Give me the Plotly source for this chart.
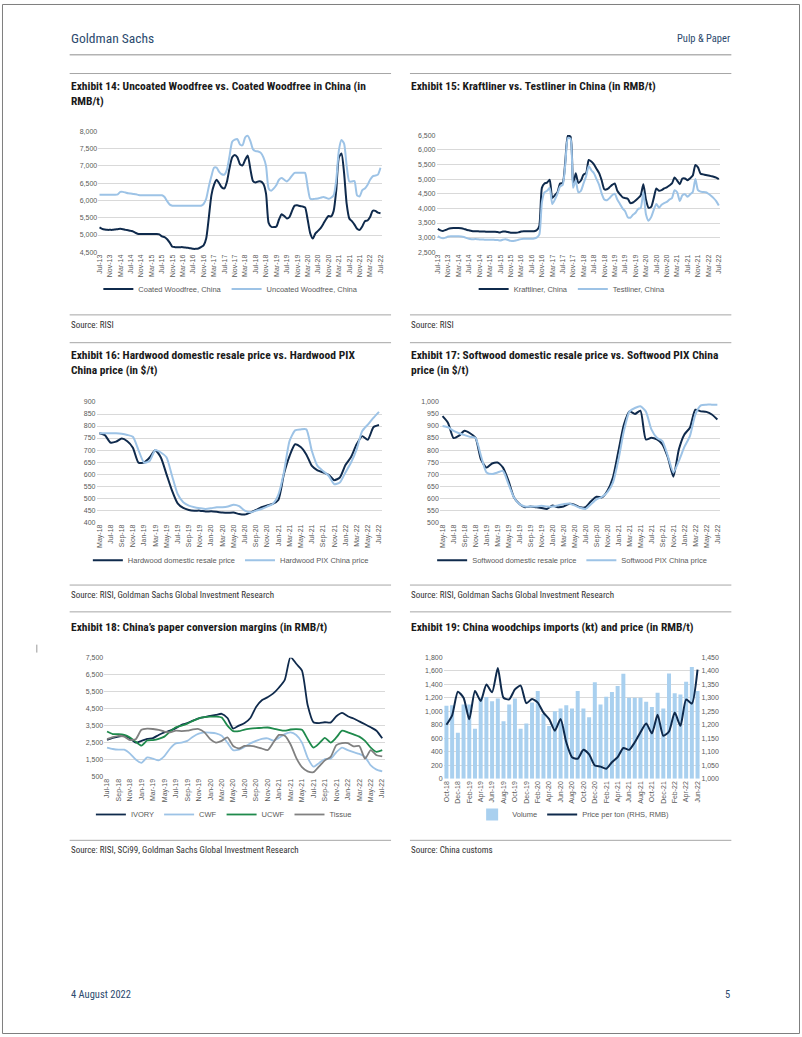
import plotly.graph_objects as go
import pandas as pd

W, H = 802, 1037
def fx(x): return x / W
def fy(y): return 1 - y / H

# ---------------- DATA ----------------
months_14 = pd.date_range("2013-07-01", "2022-07-01", freq="MS").strftime("%b-%y").tolist()
coated = [5220, 5180, 5160, 5150, 5150, 5150,
          5160, 5170, 5180, 5170, 5150, 5140, 5120, 5100, 5060, 5030, 5030, 5030,
          5030, 5030, 5030, 5030, 5030, 5020, 4960, 4940, 4880, 4780, 4660, 4650,
          4650, 4650, 4650, 4640, 4630, 4620, 4600, 4600, 4610, 4650, 4700, 4900,
          5500, 6150, 6450, 6600, 6500, 6380, 6350, 6550, 6950, 7250, 7320, 7250,
          7050, 7020, 7180, 7300, 6900, 6560, 6520, 6550, 6550, 6480, 6200, 5350,
          5240, 5230, 5250, 5450, 5600, 5550, 5480, 5520, 5700, 5850, 5860, 5840,
          5830, 5800, 5450, 5050, 4900, 5050, 5120, 5200, 5320, 5450, 5550, 5540,
          5700, 6300, 7250, 7360, 6800, 5900, 5480, 5400, 5300, 5180, 5150, 5250,
          5400, 5420, 5520, 5700, 5700, 5650, 5630]
uncoated = [6170, 6170, 6170, 6170, 6170, 6170,
            6170, 6180, 6250, 6250, 6230, 6210, 6200, 6190, 6180, 6160, 6150, 6150,
            6150, 6150, 6150, 6150, 6150, 6150, 6150, 6100, 5980, 5880, 5850, 5850,
            5850, 5850, 5850, 5850, 5850, 5850, 5850, 5850, 5850, 5850, 5900, 6050,
            6400, 6700, 6950, 6950, 6830, 6760, 6750, 6900, 7300, 7700, 7760, 7780,
            7620, 7600, 7830, 7870, 7720, 7480, 7430, 7420, 7380, 7250, 7000, 6350,
            6280, 6350, 6450, 6600, 6650, 6600, 6550, 6620, 6720, 6800, 6800, 6800,
            6800, 6800, 6400, 6050, 6040, 6050, 6060, 6080, 6100, 6080, 6050, 6080,
            6150, 6600, 7450, 7750, 7650, 7000, 6550, 6550, 6560, 6150, 6120, 6300,
            6350, 6450, 6600, 6700, 6720, 6750, 6950]
kraftliner = [3300, 3250, 3230, 3260, 3300, 3320,
              3330, 3330, 3330, 3320, 3300, 3270, 3250, 3230, 3220, 3220, 3210, 3210,
              3210, 3200, 3200, 3200, 3200, 3190, 3180, 3210, 3210, 3190, 3170, 3170,
              3170, 3180, 3210, 3220, 3220, 3220, 3220, 3220, 3250, 3400, 4700, 4850,
              4880, 4980, 4350, 4450, 4550, 4850, 4870, 5600, 6480, 6450, 4800, 5200,
              4870, 4950, 5150, 5200, 5650, 5600, 5500, 5350, 5200, 4950, 4650, 4650,
              4720, 4800, 4850, 4600, 4480, 4380, 4350, 4330, 4180, 4200, 4270, 4350,
              4450, 4820, 4300, 4020, 4050, 4350, 4680, 4600, 4620, 4680, 4720, 4780,
              4850, 5050, 4950, 4820, 5020, 5020, 4960, 5030, 5120, 5480, 5400, 5180,
              5160, 5140, 5120, 5100, 5080, 5050, 5000]
testliner = [3050, 3000, 2980, 3000, 3040, 3050,
             3050, 3050, 3050, 3040, 3020, 2990, 2960, 2950, 2950, 2950, 2940, 2940,
             2930, 2930, 2930, 2930, 2920, 2920, 2900, 2930, 2950, 2920, 2890, 2890,
             2900, 2930, 2950, 2960, 2960, 2960, 2960, 2970, 3000, 3100, 4200, 4550,
             4600, 4700, 4150, 4300, 4500, 4750, 4800, 5500, 6400, 6380, 4700, 4950,
             4550, 4600, 4850, 5100, 5450, 5300, 5200, 5000, 4800, 4500, 4300, 4280,
             4350, 4450, 4500, 4300, 4150, 4000, 3900, 3700, 3680, 3780, 3850, 3980,
             4020, 4550, 3800, 3580, 3700, 3950, 4150, 4020, 4120, 4180, 4220, 4300,
             4350, 4620, 4550, 4250, 4450, 4480, 4400, 4480, 4560, 5000, 4620, 4570,
             4560, 4550, 4500, 4430, 4350, 4250, 4100]

months_16 = pd.date_range("2018-05-01", "2022-07-01", freq="MS").strftime("%b-%y").tolist()
hw_domestic = [770, 762, 731, 735, 748, 737, 710, 648, 648, 669, 699, 669, 600, 531, 478, 459, 451,
               448, 448, 444, 445, 443, 440, 439, 440, 434, 432, 440, 451, 462, 470, 476, 492, 600,
               675, 724, 713, 682, 634, 616, 607, 597, 575, 586, 638, 671, 724, 758, 743, 795, 804]
hw_pix = [770, 770, 770, 770, 768, 763, 755, 700, 648, 655, 700, 690, 670, 593, 517, 483, 469,
          462, 458, 455, 458, 462, 462, 465, 473, 467, 448, 441, 448, 455, 465, 476, 514, 607,
          737, 782, 786, 786, 696, 634, 613, 593, 558, 565, 607, 648, 703, 779, 806, 834, 859]
sw_domestic = [941, 913, 850, 860, 880, 870, 851, 760, 727, 744, 748, 727, 672, 603, 576, 562, 565,
               562, 559, 555, 569, 562, 565, 576, 573, 562, 562, 587, 606, 603, 631, 686, 796, 906,
               961, 950, 964, 844, 851, 844, 824, 769, 689, 803, 865, 893, 968, 961, 959, 948, 927]
sw_pix = [900, 895, 880, 870, 862, 855, 850, 775, 707, 700, 707, 713, 658, 603, 575, 565, 565,
          565, 568, 565, 565, 570, 575, 578, 570, 560, 555, 575, 595, 605, 625, 665, 760, 880,
          960, 975, 982, 960, 886, 851, 837, 775, 707, 755, 813, 858, 948, 986, 989, 989, 989]

months_18 = pd.date_range("2018-07-01", "2022-07-01", freq="MS").strftime("%b-%y").tolist()
ivory = [2650, 2780, 2850, 2900, 2750, 2500, 2600, 2720, 2760, 2950,
         3100, 3200, 3350, 3550, 3650, 3800, 3930, 4000, 4070, 4130,
         4200, 3950, 3330, 3500, 3650, 3950, 4600, 5000, 5170, 5400,
         5750, 6200, 7550, 7150, 6750, 4700, 3700, 3650, 3700, 3680,
         4050, 4250, 4050, 3920, 3750, 3580, 3400, 3200, 2750]
cwf = [2200, 2120, 2080, 2080, 1850, 1500, 1300, 1620, 1550, 1450,
       1700, 2150, 2450, 2500, 2600, 2850, 3030, 3100, 3080, 3040,
       2900, 2500, 2050, 2080, 2250, 2450, 2600, 2720, 2750, 2620,
       2780, 3000, 3100, 2950, 2500, 1600, 1080, 1300, 1530, 1550,
       1930, 2200, 2050, 1930, 1830, 1650, 1150, 900, 800]
ucwf = [3150, 3000, 3000, 2950, 2800, 2550, 2320, 2620, 2650, 2720,
        2850, 3150, 3400, 3500, 3620, 3780, 3930, 4000, 4030, 4030,
        3980, 3500, 3180, 3170, 3270, 3320, 3350, 3370, 3390, 3330,
        3250, 3200, 3270, 3290, 3250, 2700, 2200, 2450, 2780, 2500,
        2800, 3200, 3100, 2980, 2850, 2600, 2200, 1950, 2050]
tissue = [2700, 2820, 2900, 2850, 2650, 2700, 3250, 3320, 3300, 3250,
          3150, 3100, 3200, 3180, 3200, 3280, 3300, 3100, 2700, 2500,
          2600, 2800, 2300, 2150, 2300, 2300, 2250, 2150, 2050, 2500,
          2950, 2900, 2400, 1600, 1050, 800, 750, 1100, 1450, 1650,
          2350, 2470, 2470, 2280, 2300, 1550, 2050, 1750, 1680]

months_19 = pd.date_range("2018-10-01", "2022-06-01", freq="MS").strftime("%b-%y").tolist()
volume = [1080, 1090, 680, 1100, 1100, 740, 1200, 1210, 1150, 1190,
          850, 1100, 1190, 740, 820, 1130, 1300, 960, 780, 1000,
          1040, 1090, 1040, 1300, 1040, 910, 1430, 1100, 1216, 1284,
          1373, 1554, 1200, 1200, 1200, 1142, 1064, 1275, 1040, 1559,
          1265, 1250, 1436, 1657, 1300]
price = [1200, 1235, 1322, 1300, 1220, 1325, 1288, 1349, 1320, 1410,
         1300, 1294, 1331, 1345, 1280, 1295, 1282, 1245, 1221, 1178,
         1221, 1135, 1080, 1074, 1107, 1090, 1049, 1045, 1037, 1061,
         1080, 1114, 1107, 1135, 1172, 1205, 1168, 1237, 1159, 1175,
         1245, 1196, 1294, 1278, 1404]

# ---------------- STYLE ----------------
NAVY = "#0f2a4c"
LIGHT = "#9dc3e6"
GREEN = "#1f8a4c"
GRAY = "#808080"
BARC = "#a9d0ef"
GRID = "#d9d9d9"
ARIAL = "Arial, 'Liberation Sans', sans-serif"
NARROW = "'Liberation Sans Narrow', 'Arial Narrow', 'Roboto Condensed', Roboto, sans-serif"
TICK = dict(family=ARIAL, size=7, color="#595959")
LEGF = dict(family=ARIAL, size=7.5, color="#595959")

fig = go.Figure()

def add_line(x, y, name, color, xa, ya, leg, width=2.0):
    fig.add_trace(go.Scatter(x=x, y=y, name=name, mode="lines",
                             line=dict(color=color, width=width, shape="spline", smoothing=0.6),
                             xaxis=xa, yaxis=ya, legend=leg, hoverinfo="skip"))

add_line(months_14, coated, "Coated Woodfree, China", NAVY, "x", "y", "legend")
add_line(months_14, uncoated, "Uncoated Woodfree, China", LIGHT, "x", "y", "legend")
add_line(months_14, kraftliner, "Kraftliner, China", NAVY, "x2", "y2", "legend2")
add_line(months_14, testliner, "Testliner, China", LIGHT, "x2", "y2", "legend2")
add_line(months_16, hw_domestic, "Hardwood domestic resale price", NAVY, "x3", "y3", "legend3")
add_line(months_16, hw_pix, "Hardwood PIX China price", LIGHT, "x3", "y3", "legend3")
add_line(months_16, sw_domestic, "Softwood domestic resale price", NAVY, "x4", "y4", "legend4")
add_line(months_16, sw_pix, "Softwood PIX China price", LIGHT, "x4", "y4", "legend4")
add_line(months_18, ivory, "IVORY", NAVY, "x5", "y5", "legend5", 1.8)
add_line(months_18, cwf, "CWF", LIGHT, "x5", "y5", "legend5", 1.8)
add_line(months_18, ucwf, "UCWF", GREEN, "x5", "y5", "legend5", 1.8)
add_line(months_18, tissue, "Tissue", GRAY, "x5", "y5", "legend5", 1.8)
fig.add_trace(go.Bar(x=months_19, y=volume, name="Volume", marker=dict(color=BARC, line=dict(width=0)),
                     xaxis="x6", yaxis="y6", legend="legend6", hoverinfo="skip"))
add_line(months_19, price, "Price per ton (RHS, RMB)", NAVY, "x6", "y7", "legend6")

def xcat(x0, x1, anchor, cats, step):
    return dict(domain=[fx(x0), fx(x1)], anchor=anchor, type="category",
                tickmode="array", tickvals=cats[::step], ticktext=cats[::step],
                tickangle=-90, tickfont=TICK, showgrid=False, showline=False, ticks="",
                zeroline=False, range=[-0.5, len(cats) - 0.5], fixedrange=True)

def ylin(top, bot, anchor, rng, dtick, tick0=None):
    d = dict(domain=[fy(bot), fy(top)], anchor=anchor, range=rng, dtick=dtick,
             tickformat=",", gridcolor=GRID, gridwidth=1, zeroline=False, showline=False,
             ticks="", tickfont=TICK, fixedrange=True)
    if tick0 is not None:
        d["tick0"] = tick0
    return d

layout = dict(
    width=W, height=H, margin=dict(l=0, r=0, t=0, b=0),
    paper_bgcolor="white", plot_bgcolor="white", bargap=0.3,
    xaxis=xcat(96.7, 381.7, "y", months_14, 4),
    yaxis=ylin(128.3, 250, "x", [4500, 8000], 500),
    xaxis2=xcat(436.7, 721.7, "y2", months_14, 4),
    yaxis2=ylin(132, 250, "x2", [2500, 6500], 500),
    xaxis3=xcat(95, 381.7, "y3", months_16, 2),
    yaxis3=ylin(400.7, 521.7, "x3", [400, 900], 50),
    xaxis4=xcat(440, 721.7, "y4", months_16, 2),
    yaxis4=ylin(400.7, 521.7, "x4", [500, 1000], 50),
    xaxis5=xcat(102.7, 385, "y5", months_18, 2),
    yaxis5=ylin(658.3, 777.7, "x5", [500, 7500], 1000, 500),
    xaxis6=xcat(443.8, 701.9, "y6", months_19, 2),
    yaxis6=ylin(657.7, 780, "x6", [0, 1800], 200),
)
y7 = ylin(657.7, 780, "x6", [1000, 1450], 50)
y7.update(overlaying="y6", side="right", showgrid=False)
layout["yaxis7"] = y7

def leg(cx, cy):
    return dict(x=fx(cx), y=fy(cy), xanchor="center", yanchor="middle", orientation="h",
                font=LEGF, bgcolor="rgba(0,0,0,0)", itemwidth=30, itemclick=False,
                itemdoubleclick=False)

layout["legend"] = leg(230, 287)
layout["legend2"] = leg(573, 287)
layout["legend3"] = leg(230, 560)
layout["legend4"] = leg(573, 560)
layout["legend5"] = leg(223, 816)
layout["legend6"] = leg(574, 816)
fig.update_layout(**layout)

# ---------------- PAGE FURNITURE ----------------
ann = []
def text(x, y, s, size, color="#1a1a1a", family=NARROW, xanchor="left", yanchor="middle", bold=False):
    if bold:
        s = "<b>" + s + "</b>"
    ann.append(dict(x=fx(x), y=fy(y), xref="paper", yref="paper", text=s, showarrow=False,
                    xanchor=xanchor, yanchor=yanchor, align="left",
                    font=dict(family=family, size=size, color=color)))

HEAD = "#2c4a6e"
text(67, 34, "Goldman Sachs", 13.5, HEAD)
text(734, 35, "Pulp &amp; Paper", 10.5, HEAD, xanchor="right")
text(67, 997, "4 August 2022", 10.5, HEAD)
text(734, 997, "5", 10.5, HEAD, xanchor="right")

text(67, 73, "Exhibit 14: Uncoated Woodfree vs. Coated Woodfree in China (in<br>RMB/t)", 11.5, yanchor="top", bold=True)
text(409, 73, "Exhibit 15: Kraftliner vs. Testliner in China (in RMB/t)", 11.5, yanchor="top", bold=True)
text(67, 344, "Exhibit 16: Hardwood domestic resale price vs. Hardwood PIX<br>China price (in $/t)", 11.5, yanchor="top", bold=True)
text(409, 344, "Exhibit 17: Softwood domestic resale price vs. Softwood PIX China<br>price (in $/t)", 11.5, yanchor="top", bold=True)
text(67, 618, "Exhibit 18: China’s paper conversion margins (in RMB/t)", 11.5, yanchor="top", bold=True)
text(409, 618, "Exhibit 19: China woodchips imports (kt) and price (in RMB/t)", 11.5, yanchor="top", bold=True)

SRC = "#333333"
text(67, 323, "Source: RISI", 9, SRC)
text(409, 323, "Source: RISI", 9, SRC)
text(67, 595, "Source: RISI, Goldman Sachs Global Investment Research", 9, SRC)
text(409, 595, "Source: RISI, Goldman Sachs Global Investment Research", 9, SRC)
text(67, 852, "Source: RISI, SCi99, Goldman Sachs Global Investment Research", 9, SRC)
text(409, 852, "Source: China customs", 9, SRC)

shapes = []
def hline(x0, x1, y, color="#a6a6a6", w=1):
    shapes.append(dict(type="line", xref="paper", yref="paper", x0=fx(x0), x1=fx(x1),
                       y0=fy(y), y1=fy(y), line=dict(color=color, width=w)))

hline(68, 733, 51, "#b3b3b3", 1.5)
for y in (70, 341, 612):
    hline(68, 391, y)
    hline(410, 733, y)
for y in (313, 585, 842):
    hline(68, 391, y)
    hline(410, 733, y)
shapes.append(dict(type="rect", xref="paper", yref="paper", x0=fx(0.5), x1=fx(801.5),
                   y0=fy(1036.5), y1=fy(0.5), line=dict(color="#7f7f7f", width=1)))
shapes.append(dict(type="line", xref="paper", yref="paper", x0=fx(35), x1=fx(35),
                   y0=fy(645), y1=fy(653), line=dict(color="#9a9a9a", width=1)))

fig.update_layout(annotations=ann, shapes=shapes)
fig.write_html("out.html", config={"displayModeBar": False},
               post_script="document.body.style.margin='0';document.body.style.overflow='hidden';")
